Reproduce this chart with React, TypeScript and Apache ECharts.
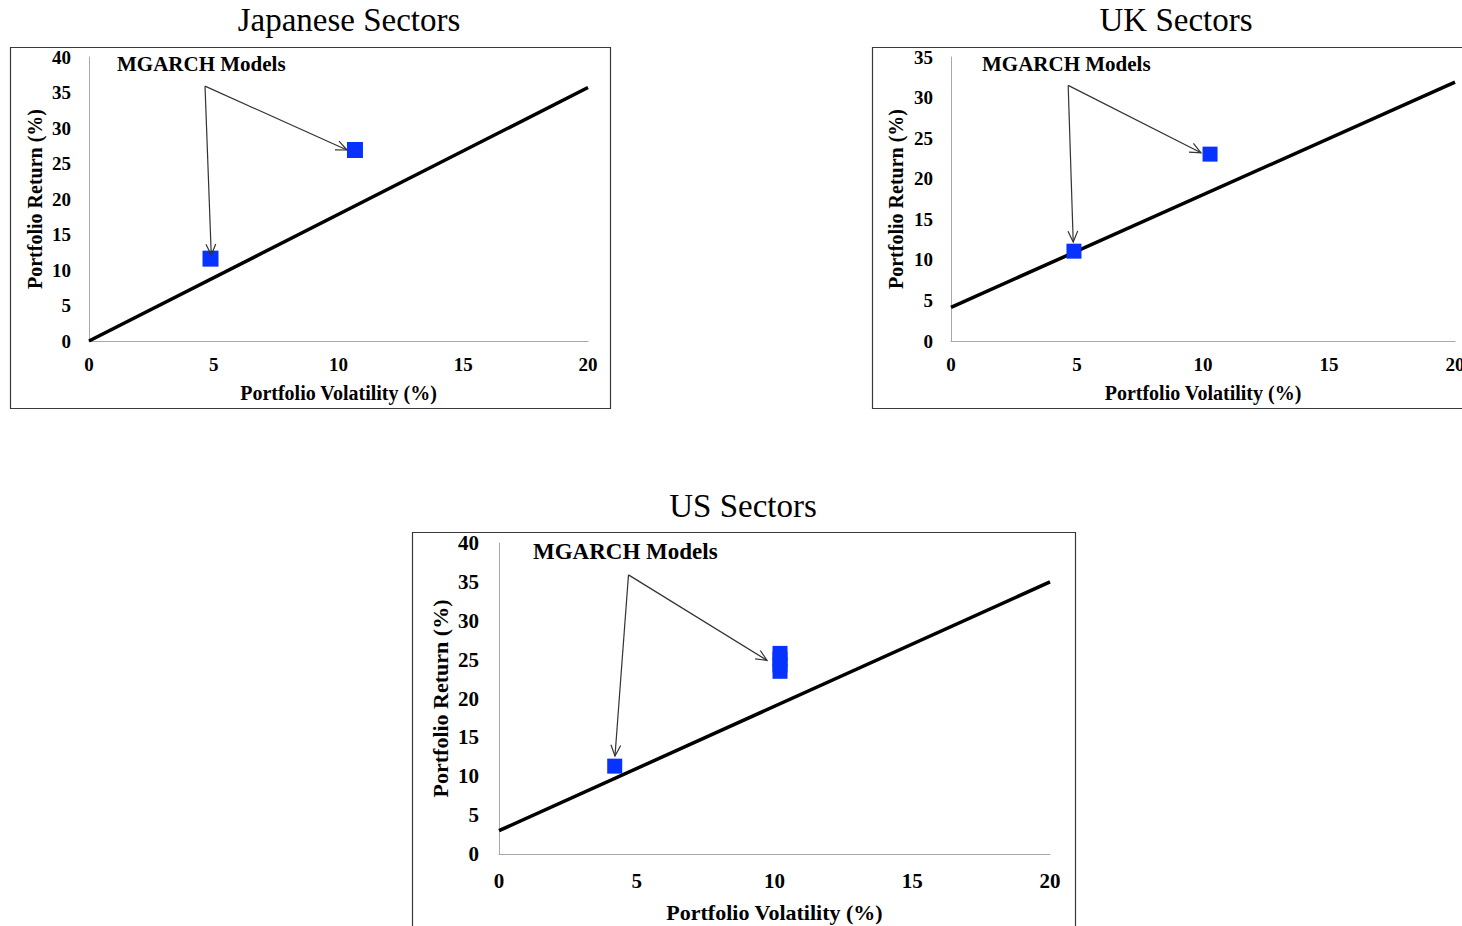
import React, { useEffect, useRef } from "react";
import * as echarts from "echarts";

// Japanese sectors
const jpLine = [[0, 0], [20, 35.7]];
const jpModels = [[4.87, 11.6], [10.66, 26.9]];
const jpArrows = [[4.65, 35.9, 4.9, 12.1], [4.65, 35.9, 10.34, 26.9]];
// UK sectors
const ukLine = [[0, 4.15], [20, 31.9]];
const ukModels = [[4.88, 11.07], [10.28, 23.03]];
const ukArrows = [[4.65, 31.5, 4.85, 12.2], [4.65, 31.5, 9.92, 23.2]];
// US sectors
const usLine = [[0, 3], [20, 35]];
const usModels = [[4.2, 11.3], [10.2, 23.5], [10.2, 24.3], [10.2, 25.1], [10.2, 25.8]];
const usArrows = [[4.7, 35.9, 4.21, 12.6], [4.7, 35.9, 9.73, 24.9]];

const titles = ["Japanese Sectors", "UK Sectors", "US Sectors"];
const annotation = "MGARCH Models";
const xName = "Portfolio Volatility (%)";
const yName = "Portfolio Return (%)";
const yMaxes = [40, 35, 40];

const FONT = "'Liberation Serif', 'Times New Roman', serif";

export default function App() {
  const ref = useRef<HTMLDivElement>(null);
  useEffect(() => {
    if (!ref.current) return;
    const chart = echarts.init(ref.current, null, { renderer: "svg" });

    const grids = [
      { left: 89, top: 57, width: 499, height: 284 },
      { left: 951, top: 57, width: 504, height: 284 },
      { left: 499, top: 543, width: 551, height: 311 },
    ];
    const fs = [
      { tick: 19, name: 20, xm: 14, ym: 18, xg: 42, yg: 44 },
      { tick: 19, name: 20, xm: 14, ym: 18, xg: 42, yg: 45 },
      { tick: 21, name: 22, xm: 16, ym: 20, xg: 47, yg: 48 },
    ];

    const axisLine = { show: true, lineStyle: { color: "#a8a8a8", width: 1 } };

    const xAxis = grids.map((_, i) => ({
      type: "value",
      gridIndex: i,
      min: 0,
      max: 20,
      interval: 5,
      axisLine,
      axisTick: { show: false },
      splitLine: { show: false },
      axisLabel: {
        color: "#000",
        fontFamily: FONT,
        fontWeight: "bold",
        fontSize: fs[i].tick,
        margin: fs[i].xm,
      },
      name: xName,
      nameLocation: "middle",
      nameGap: fs[i].xg,
      nameTextStyle: {
        color: "#000",
        fontFamily: FONT,
        fontWeight: "bold",
        fontSize: fs[i].name,
        verticalAlign: "top",
      },
    }));

    const yAxis = grids.map((_, i) => ({
      type: "value",
      gridIndex: i,
      min: 0,
      max: yMaxes[i],
      interval: 5,
      axisLine,
      axisTick: { show: false },
      splitLine: { show: false },
      axisLabel: {
        color: "#000",
        fontFamily: FONT,
        fontWeight: "bold",
        fontSize: fs[i].tick,
        margin: fs[i].ym,
      },
      name: yName,
      nameLocation: "middle",
      nameRotate: 90,
      nameGap: fs[i].yg,
      nameTextStyle: {
        color: "#000",
        fontFamily: FONT,
        fontWeight: "bold",
        fontSize: fs[i].name,
      },
    }));

    const lines = [jpLine, ukLine, usLine];
    const models = [jpModels, ukModels, usModels];
    const arrows = [jpArrows, ukArrows, usArrows];
    const symSizes = [16, 15, 15];

    const series: any[] = [];
    for (let i = 0; i < 3; i++) {
      series.push({
        type: "line",
        xAxisIndex: i,
        yAxisIndex: i,
        data: lines[i],
        symbol: "none",
        lineStyle: { color: "#000", width: 3.5 },
        z: 2,
      });
      series.push({
        type: "scatter",
        xAxisIndex: i,
        yAxisIndex: i,
        data: models[i],
        symbol: "rect",
        symbolSize: symSizes[i],
        itemStyle: { color: "#0633ff", borderWidth: 0, opacity: 1 },
        z: 3,
      });
      series.push({
        type: "custom",
        xAxisIndex: i,
        yAxisIndex: i,
        data: arrows[i],
        encode: { x: 0, y: 1 },
        clip: false,
        z: 4,
        renderItem: (params: any, api: any) => {
          const a = api.coord([api.value(0), api.value(1)]);
          const b = api.coord([api.value(2), api.value(3)]);
          const ang = Math.atan2(b[1] - a[1], b[0] - a[0]);
          const L = 12;
          const w = 0.42;
          const h1 = [b[0] - L * Math.cos(ang - w), b[1] - L * Math.sin(ang - w)];
          const h2 = [b[0] - L * Math.cos(ang + w), b[1] - L * Math.sin(ang + w)];
          return {
            type: "group",
            children: [
              {
                type: "line",
                shape: { x1: a[0], y1: a[1], x2: b[0], y2: b[1] },
                style: { stroke: "#333", lineWidth: 1.2 },
              },
              {
                type: "polyline",
                shape: { points: [h1, b, h2] },
                style: { stroke: "#333", lineWidth: 1.2, fill: null },
              },
            ],
          };
        },
      });
    }

    const titleStyle = (text: string, x: number, y: number) => ({
      type: "text",
      x,
      y,
      style: {
        text,
        fill: "#000",
        font: `33px ${FONT}`,
        textAlign: "center",
        textVerticalAlign: "middle",
      },
    });
    const annot = (x: number, y: number, size: number) => ({
      type: "text",
      x,
      y,
      style: {
        text: annotation,
        fill: "#000",
        font: `bold ${size}px ${FONT}`,
        textAlign: "left",
        textVerticalAlign: "middle",
      },
    });
    const box = (x: number, y: number, w: number, h: number) => ({
      type: "rect",
      shape: { x, y, width: w, height: h },
      style: { fill: "none", stroke: "#3a3a3a", lineWidth: 1.2 },
      silent: true,
    });

    chart.setOption({
      animation: false,
      backgroundColor: "#fff",
      grid: grids.map((g) => ({ ...g, containLabel: false })),
      xAxis,
      yAxis,
      series,
      graphic: [
        box(10.5, 47.5, 600, 361),
        box(872.5, 47.5, 600, 361),
        box(412.5, 532.5, 663, 420),
        titleStyle(titles[0], 349, 20),
        titleStyle(titles[1], 1176, 20),
        titleStyle(titles[2], 743, 506),
        annot(117, 64, 21),
        annot(982, 64, 21),
        annot(533, 551, 23),
      ],
    });
    return () => chart.dispose();
  }, []);

  return (
    <div style={{ position: "fixed", left: 0, top: 0, width: 1462, height: 926, overflow: "hidden", background: "#fff" }}>
      <div ref={ref} style={{ width: 1500, height: 926 }} />
    </div>
  );
}
